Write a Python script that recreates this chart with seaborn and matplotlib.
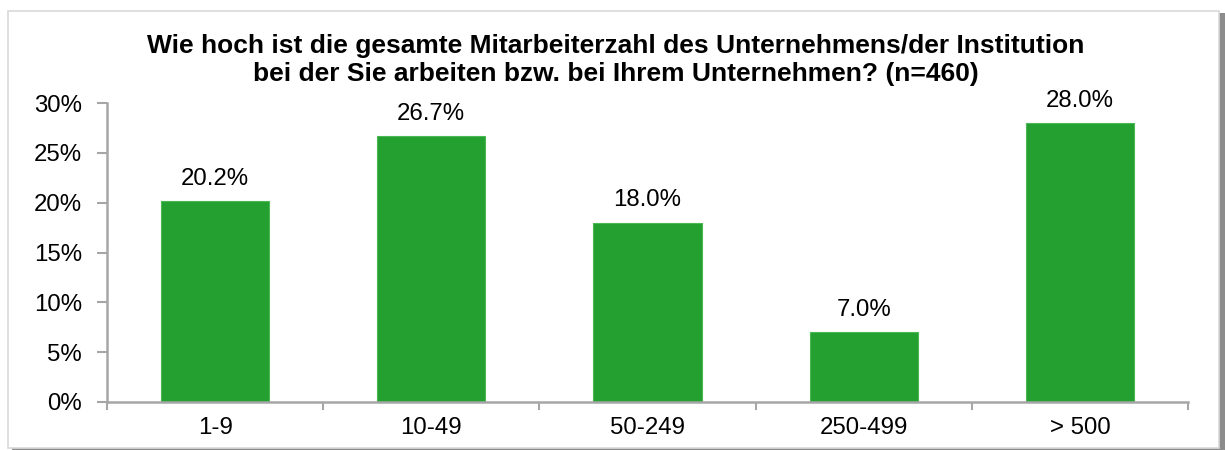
import matplotlib
matplotlib.use("Agg")
import matplotlib.pyplot as plt
import seaborn as sns
from matplotlib.patches import Rectangle
from matplotlib.ticker import FuncFormatter, FixedLocator

# ---------------------------
# Data
# ---------------------------
categories = ["1-9", "10-49", "50-249", "250-499", "> 500"]
shares = [20.2, 26.7, 18.0, 7.0, 28.0]
title = ("Wie hoch ist die gesamte Mitarbeiterzahl des Unternehmens/der Institution\n"
         "bei der Sie arbeiten bzw. bei Ihrem Unternehmen? (n=460)")

bar_color = "#23A02F"
axis_gray = "#A6A6A6"

sns.set_style("white")
plt.rcParams["font.family"] = ["Liberation Sans", "DejaVu Sans"]
plt.rcParams["text.color"] = "black"
plt.rcParams["xtick.color"] = "black"
plt.rcParams["ytick.color"] = "black"

fig = plt.figure(figsize=(12.25, 4.5), dpi=100)

# frame with shadow
fig.patches.append(Rectangle((12 / 1225, 1 - 450 / 450), 1213 / 1225, 437 / 450,
                             transform=fig.transFigure, facecolor="#8C8C8C",
                             edgecolor="none", zorder=-3))
fig.patches.append(Rectangle((8 / 1225, 1 - 448 / 450), 1211 / 1225, 437 / 450,
                             transform=fig.transFigure, facecolor="white",
                             edgecolor="#D9D9D9", linewidth=1.2, zorder=-2))

ax = fig.add_axes([107 / 1225, 1 - 402 / 450, 1081 / 1225, 299 / 450])
ax.set_facecolor("none")

sns.barplot(x=categories, y=shares, color=bar_color, saturation=1, width=0.5,
            edgecolor="#4CB755", linewidth=0.8, ax=ax)

for i, v in enumerate(shares):
    ax.annotate(f"{v:.1f}%", (i, v), xytext=(0, 8), textcoords="offset points",
                ha="center", va="bottom", fontsize=17.3)

ax.set_ylim(0, 30)
ax.set_xlim(-0.5, len(categories) - 0.5)
ax.yaxis.set_major_locator(FixedLocator(range(0, 31, 5)))
ax.yaxis.set_major_formatter(FuncFormatter(lambda v, p: f"{v:.0f}%"))

# category boundary ticks, labels at centres
ax.set_xticks([i - 0.5 for i in range(len(categories) + 1)])
ax.set_xticklabels([])
ax.set_xticks(range(len(categories)), minor=True)
ax.set_xticklabels(categories, minor=True)
ax.tick_params(axis="x", which="major", direction="out", length=6, width=1.5, color=axis_gray, bottom=True)
ax.tick_params(axis="x", which="minor", length=0, pad=11, labelsize=17.3)
ax.tick_params(axis="y", direction="out", length=7, width=1.5, color=axis_gray, left=True, pad=11, labelsize=17.3)

sns.despine(ax=ax)
for s in ["left", "bottom"]:
    ax.spines[s].set_color(axis_gray)
    ax.spines[s].set_linewidth(1.8)

ax.set_xlabel("")
ax.set_ylabel("")

fig.text(616 / 1225, 1 - 60 / 450, title, ha="center", va="center",
         fontsize=19, fontweight="bold", linespacing=1.22)

fig.savefig("out.png", dpi=100)
